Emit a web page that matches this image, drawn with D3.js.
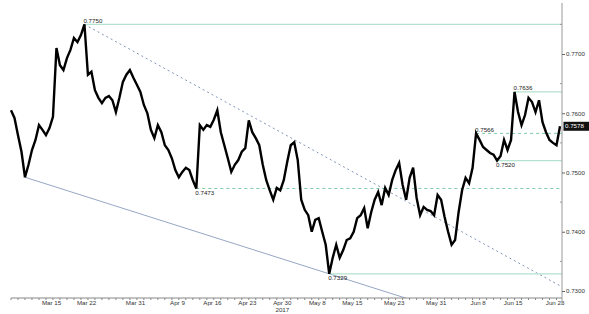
<!DOCTYPE html>
<html>
<head>
<meta charset="utf-8">
<script src="https://cdn.jsdelivr.net/npm/d3@7"></script>
<style>
  body { margin: 0; background: #fff; }
  text { font-family: "Liberation Sans", Arial, sans-serif; }
</style>
</head>
<body>
<div id="chart"></div>
<script>
// AUD/USD, two readings per trading day, 8 Mar - 26 Jun 2017
const closes = [
  0.7605, 0.7592, 0.7563, 0.7535, 0.7492, 0.7513, 0.7538, 0.7555, 0.7580, 0.7572,
  0.7563, 0.7575, 0.7594, 0.7710, 0.7681, 0.7673, 0.7693, 0.7707, 0.7727, 0.7720,
  0.7732, 0.7750, 0.7665, 0.7670, 0.7639, 0.7626, 0.7617, 0.7626, 0.7629, 0.7622,
  0.7602, 0.7626, 0.7653, 0.7665, 0.7673, 0.7660, 0.7648, 0.7636, 0.7614, 0.7600,
  0.7572, 0.7558, 0.7580, 0.7568, 0.7546, 0.7538, 0.7524, 0.7504, 0.7492, 0.7501,
  0.7508, 0.7504, 0.7487, 0.7473, 0.7580, 0.7572, 0.7580, 0.7577, 0.7589, 0.7605,
  0.7568, 0.7546, 0.7524, 0.7501, 0.7513, 0.7521, 0.7535, 0.7541, 0.7588, 0.7568,
  0.7558, 0.7546, 0.7513, 0.7487, 0.7470, 0.7454, 0.7474, 0.7470, 0.7487, 0.7518,
  0.7546, 0.7551, 0.7521, 0.7454, 0.7437, 0.7428, 0.7400, 0.7420, 0.7423, 0.7400,
  0.7378, 0.7329, 0.7356, 0.7378, 0.7356, 0.7369, 0.7386, 0.7389, 0.7400, 0.7423,
  0.7428, 0.7440, 0.7406, 0.7433, 0.7454, 0.7467, 0.7445, 0.7474, 0.7462, 0.7487,
  0.7504, 0.7516, 0.7479, 0.7454, 0.7491, 0.7508, 0.7457, 0.7428, 0.7442, 0.7437,
  0.7435, 0.7428, 0.7462, 0.7454, 0.7425, 0.7400, 0.7378, 0.7386, 0.7433, 0.7470,
  0.7491, 0.7482, 0.7508, 0.7566, 0.7555, 0.7543, 0.7538, 0.7533, 0.7530, 0.7520,
  0.7528, 0.7555, 0.7538, 0.7555, 0.7636, 0.7602, 0.7580, 0.7597, 0.7626, 0.7619,
  0.7602, 0.7622, 0.7585, 0.7568, 0.7555, 0.7550, 0.7546, 0.7578
];

// horizontal levels: price, index where it was set, broken or not
const levelValues = [0.7750, 0.7636, 0.7566, 0.7520, 0.7473, 0.7329];
const levelIndex  = [21, 144, 133, 139, 53, 91];
const levelBroken = [false, false, true, false, true, false];
const levelBelow  = [false, false, false, true, true, true];

// trend lines (index, price)
const upperTrendIdx = [21, 157.6];
const upperTrendVal = [0.7750, 0.7307];
const lowerTrendIdx = [4, 91];
const lowerTrendVal = [0.7492, 0.7329];

const yTicks = [0.7300, 0.7400, 0.7500, 0.7600, 0.7700];
const yMinor = [0.7350, 0.7450, 0.7550, 0.7650, 0.7750];
const xTickDates = ["2017-03-15", "2017-03-22", "2017-03-31", "2017-04-09", "2017-04-16",
  "2017-04-23", "2017-04-30", "2017-05-08", "2017-05-15", "2017-05-23", "2017-05-31",
  "2017-06-08", "2017-06-15", "2017-06-23"];
const yearLabelDate = "2017-04-30";

const width = 589, height = 314;
const plotLeft = 11, plotRight = 562, plotBottom = 298;

const parse = d3.timeParse("%Y-%m-%d");
const days = d3.timeDay.range(parse("2017-03-08"), parse("2017-06-27"))
  .filter(d => d.getDay() !== 0 && d.getDay() !== 6);

const x = d3.scaleLinear().domain([0, closes.length - 1]).range([plotLeft, 560]);
const y = d3.scaleLinear().domain([0.73, 0.77]).range([291, 54]);

const svg = d3.select("#chart").append("svg")
  .attr("width", width)
  .attr("height", height);

svg.append("clipPath").attr("id", "plot")
  .append("rect")
  .attr("x", plotLeft).attr("y", 0)
  .attr("width", plotRight - plotLeft).attr("height", plotBottom);

// trend lines
const plot = svg.append("g").attr("clip-path", "url(#plot)");
plot.append("line")
  .attr("x1", x(upperTrendIdx[0])).attr("y1", y(upperTrendVal[0]))
  .attr("x2", x(upperTrendIdx[1])).attr("y2", y(upperTrendVal[1]))
  .attr("stroke", "#8196b8").attr("stroke-width", 1)
  .attr("stroke-dasharray", "2,3");

const slope = (lowerTrendVal[1] - lowerTrendVal[0]) / (lowerTrendIdx[1] - lowerTrendIdx[0]);
const lowerEnd = 140;
plot.append("line")
  .attr("x1", x(lowerTrendIdx[0])).attr("y1", y(lowerTrendVal[0]))
  .attr("x2", x(lowerEnd)).attr("y2", y(lowerTrendVal[0] + slope * (lowerEnd - lowerTrendIdx[0])))
  .attr("stroke", "#97a6c4").attr("stroke-width", 1);

// levels
levelValues.forEach((v, i) => {
  svg.append("line")
    .attr("x1", x(levelIndex[i])).attr("x2", plotRight)
    .attr("y1", y(v)).attr("y2", y(v))
    .attr("stroke", levelBroken[i] ? "#5dbb93" : "#b5e2d0")
    .attr("stroke-width", levelBroken[i] ? 0.8 : 1.2)
    .attr("stroke-dasharray", levelBroken[i] ? "3,3" : null);
});

// price
const line = d3.line()
  .x((d, i) => x(i))
  .y(d => y(d));

svg.append("path")
  .datum(closes)
  .attr("d", line)
  .attr("fill", "none")
  .attr("stroke", "#000")
  .attr("stroke-width", 2.4)
  .attr("stroke-linejoin", "miter");

levelValues.forEach((v, i) => {
  svg.append("text")
    .attr("x", x(levelIndex[i]) - 1)
    .attr("y", levelBelow[i] ? y(v) + 6.5 : y(v) - 1.5)
    .attr("font-size", 6.2)
    .attr("fill", "#222")
    .text(d3.format(".4f")(v));
});

// x axis
svg.append("line")
  .attr("x1", plotLeft).attr("x2", plotRight)
  .attr("y1", plotBottom).attr("y2", plotBottom)
  .attr("stroke", "#888");

svg.append("g").selectAll("line")
  .data(days)
  .join("line")
  .attr("x1", (d, i) => x(2 * i)).attr("x2", (d, i) => x(2 * i))
  .attr("y1", plotBottom).attr("y2", plotBottom + 2)
  .attr("stroke", "#888");

const dayIndex = s => days.findIndex(d => d >= parse(s));
const fmt = d3.timeFormat("%b %-d");

svg.append("g").selectAll("text")
  .data(xTickDates)
  .join("text")
  .attr("x", s => x(2 * dayIndex(s) + 1.6))
  .attr("y", 305)
  .attr("text-anchor", "middle")
  .attr("font-size", 6.2)
  .attr("fill", "#333")
  .text(s => fmt(parse(s)));

svg.append("text")
  .attr("x", x(2 * dayIndex(yearLabelDate) + 1.6))
  .attr("y", 312)
  .attr("text-anchor", "middle")
  .attr("font-size", 6.2)
  .attr("fill", "#333")
  .text("2017");

// right axis
svg.append("line")
  .attr("x1", plotRight).attr("x2", plotRight)
  .attr("y1", 3).attr("y2", 305)
  .attr("stroke", "#999");

const yAxis = svg.append("g")
  .attr("transform", "translate(" + plotRight + ",0)")
  .call(d3.axisRight(y).tickValues(yTicks).tickSize(3).tickPadding(1)
    .tickFormat(d3.format(".4f")));
yAxis.select(".domain").remove();
yAxis.selectAll("line").attr("stroke", "#666");
yAxis.selectAll("text")
  .attr("font-size", 6.2)
  .attr("font-family", "Liberation Sans, Arial, sans-serif")
  .attr("fill", "#333");

svg.append("g").selectAll("line")
  .data(yMinor)
  .join("line")
  .attr("x1", plotRight - 2).attr("x2", plotRight)
  .attr("y1", d => y(d)).attr("y2", d => y(d))
  .attr("stroke", "#999");

// last price tag
const last = closes[closes.length - 1];
svg.append("rect")
  .attr("x", plotRight + 1.5).attr("y", y(last) - 4.5)
  .attr("width", width - plotRight - 1.5).attr("height", 9)
  .attr("fill", "#111");
svg.append("text")
  .attr("x", plotRight + 3).attr("y", y(last) + 2.2)
  .attr("font-size", 6.2)
  .attr("fill", "#fff")
  .text(d3.format(".4f")(last));
</script>
</body>
</html>
